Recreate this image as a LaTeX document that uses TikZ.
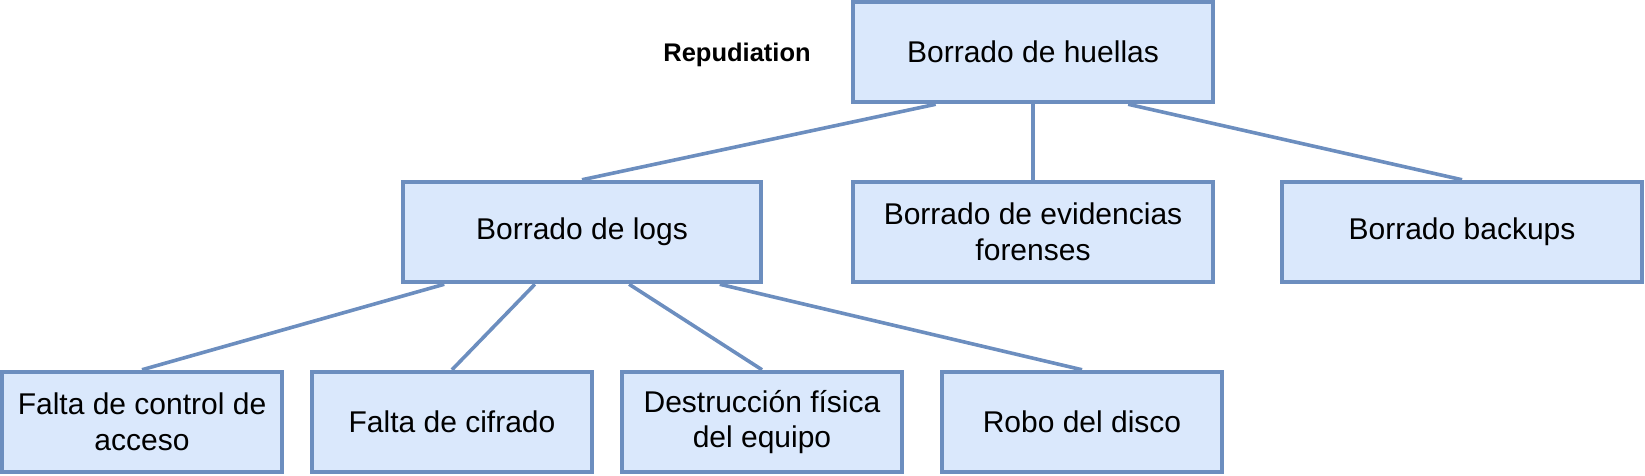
\documentclass[tikz,border=0pt]{standalone}
\usepackage{fontspec}
\setmainfont{Liberation Sans}
\usepackage{xcolor}
\usepackage{tikz}
\usetikzlibrary{arrows.meta, positioning, calc}
\definecolor{boxfill}{HTML}{DAE8FC}
\definecolor{boxline}{HTML}{6C8EBF}

\begin{document}
\begin{tikzpicture}[x=1pt, y=-1pt,
    box/.style = {rectangle, draw=boxline, fill=boxfill, line width=4.5pt,
                  minimum height=100pt, inner sep=2pt, align=center,
                  font=\fontsize{30}{35.5}\selectfont},
    wide/.style = {box, minimum width=360pt},
    narrow/.style = {box, minimum width=280pt},
    link/.style = {draw=boxline, line width=3.6pt}]
    \useasboundingbox (0,0) rectangle (1645,475);
    % top level
    \node(H) at (1033,52) [wide] {Borrado de huellas};
    \node(T) at (737,61) [anchor=base, font=\fontsize{25.5}{30}\selectfont\bfseries] {Repudiation};
    % second level
    \node(L) at (582,232) [wide, minimum width=358pt] {Borrado de logs};
    \node(E) at (1033,232) [wide] {Borrado de evidencias\\forenses};
    \node(B) at (1462,232) [wide] {Borrado backups};
    % third level
    \node(F) at (142,422) [narrow] {Falta de control de\\acceso};
    \node(C) at (452,422) [narrow] {Falta de cifrado};
    \node(D) at (762,422) [narrow] {Destrucción física\\del equipo};
    \node(R) at (1082,422) [narrow] {Robo del disco};
    % links
    \draw [link] ($(H.south west)!.233!(H.south east)$) -- (L.north);
    \draw [link] (H.south) -- (E.north);
    \draw [link] ($(H.south west)!.761!(H.south east)$) -- (B.north);
    \draw [link] ($(L.south west)!.12!(L.south east)$) -- (F.north);
    \draw [link] ($(L.south west)!.37!(L.south east)$) -- (C.north);
    \draw [link] ($(L.south west)!.63!(L.south east)$) -- (D.north);
    \draw [link] ($(L.south west)!.88!(L.south east)$) -- (R.north);
  \end{tikzpicture}
\end{document}
